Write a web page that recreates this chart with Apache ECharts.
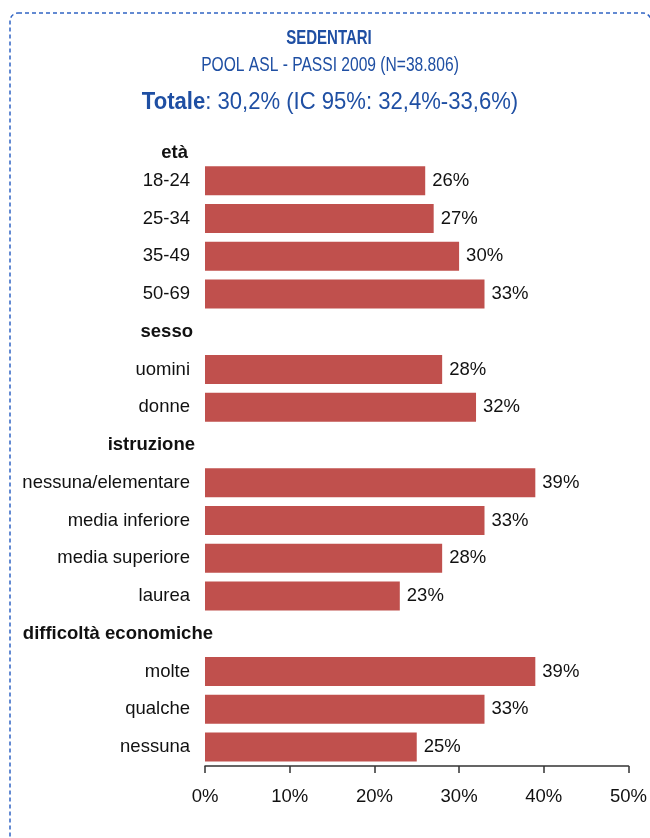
<!DOCTYPE html>
<html>
<head>
<meta charset="utf-8">
<script src="https://cdn.jsdelivr.net/npm/echarts@6/dist/echarts.min.js"></script>
<style>html,body{margin:0;padding:0;background:#fff;}#c{width:650px;height:838px;}</style>
</head>
<body>
<div id="c"></div>
<script>
var categories = ['età','18-24','25-34','35-49','50-69','sesso','uomini','donne','istruzione','nessuna/elementare','media inferiore','media superiore','laurea','difficoltà economiche','molte','qualche','nessuna'];
var headers = ['età','sesso','istruzione','difficoltà economiche'];
var values = [null,26,27,30,33,null,28,32,null,39,33,28,23,null,39,33,25];
var xTicks = [0,10,20,30,40,50];
var titleText = 'SEDENTARI';
var subtitleText = 'POOL ASL - PASSI 2009 (N=38.806)';
var totalLabel = 'Totale';
var totalText = ': 30,2% (IC 95%: 32,4%-33,6%)';

var FONT = 'Liberation Sans, Arial, sans-serif';
var BLUE = '#1f4fa3';
var FS = 18.5;
var chart = echarts.init(document.getElementById('c'), null, {renderer:'canvas'});
var rich = {
  n: {fontFamily: FONT, fontSize: FS, color: '#111', padding: [0, 25, 0, 0]},
  h0: {fontFamily: FONT, fontSize: 18.5, fontWeight: 'bold', color: '#111', padding: [20, 27, 0, 0]},
  h1: {fontFamily: FONT, fontSize: 18.5, fontWeight: 'bold', color: '#111', padding: [0, 22, 0, 0]},
  h2: {fontFamily: FONT, fontSize: 18.5, fontWeight: 'bold', color: '#111', padding: [0, 20, 0, 0]},
  h3: {fontFamily: FONT, fontSize: 18.5, fontWeight: 'bold', color: '#111', padding: [0, 2, 0, 0]}
};
var option = {
  animation: false,
  backgroundColor: '#fff',
  grid: {left: 205, right: 21, top: 124, bottom: 72, containLabel: false},
  xAxis: {
    type: 'value', min: 0, max: 50, interval: 10,
    axisLine: {show: true, lineStyle: {color: '#333', width: 1.5}},
    axisTick: {show: true, inside: false, length: 7, lineStyle: {color: '#333', width: 1.5}},
    splitLine: {show: false},
    axisLabel: {formatter: '{value}%', fontFamily: FONT, fontSize: FS, color: '#111', margin: 21}
  },
  yAxis: {
    type: 'category', inverse: true, data: categories,
    axisLine: {show: false}, axisTick: {show: false}, splitLine: {show: false},
    axisLabel: {
      margin: -10, interval: 0,
      formatter: function (v) {
        var h = headers.indexOf(v);
        return h >= 0 ? '{h' + h + '|' + v + '}' : '{n|' + v + '}';
      },
      rich: rich
    }
  },
  series: [{
    type: 'bar', data: values, barWidth: 29,
    itemStyle: {color: '#c0504d'},
    label: {
      show: true, position: 'right', distance: 7,
      fontFamily: FONT, fontSize: FS, color: '#111',
      formatter: function (p) { return p.value == null ? '' : p.value + '%'; }
    }
  }],
  graphic: [
    {type: 'rect', shape: {x: 10, y: 13, width: 641, height: 900, r: 8},
     style: {fill: null, stroke: '#3064c4', lineWidth: 1.5, lineDash: [4, 3]}, silent: true},
    {type: 'text', x: 329, y: 38, scaleX: 0.75,
     style: {text: titleText, textAlign: 'center', textVerticalAlign: 'middle', font: 'bold 20px ' + FONT, fill: BLUE}},
    {type: 'text', x: 330, y: 65, scaleX: 0.78,
     style: {text: subtitleText, textAlign: 'center', textVerticalAlign: 'middle', font: '20px ' + FONT, fill: BLUE}},
    {type: 'text', x: 330, y: 102, scaleX: 0.92,
     style: {text: '{b|' + totalLabel + '}' + totalText, textAlign: 'center', textVerticalAlign: 'middle',
       font: '24px ' + FONT, fill: BLUE,
       rich: {b: {font: 'bold 24px ' + FONT, fill: BLUE}}}}
  ]
};
chart.setOption(option);
</script>
</body>
</html>
